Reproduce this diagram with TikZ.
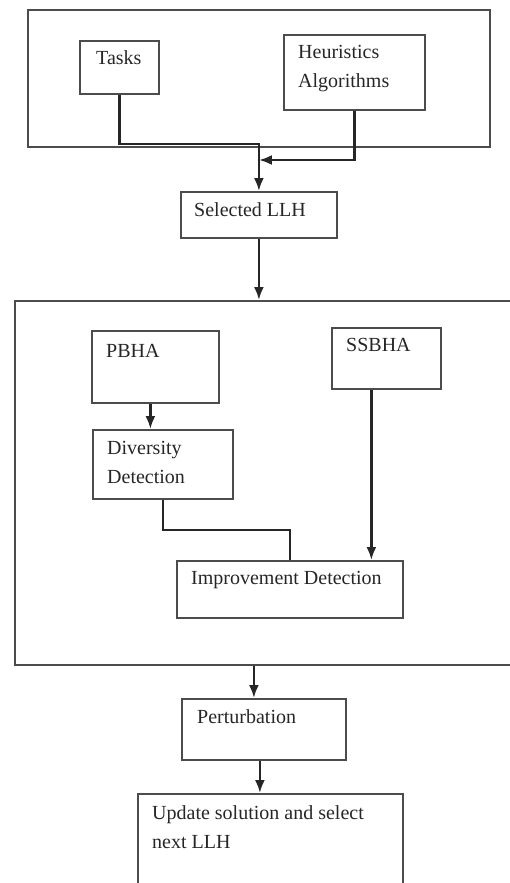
\documentclass[tikz,border=0pt]{standalone}
\usepackage{fontspec}
\setmainfont{Liberation Serif}
\usetikzlibrary{positioning,arrows.meta}

\begin{document}
\begin{tikzpicture}[x=1pt,y=-1pt,
    box/.style={draw=black!70,line width=1.8pt,anchor=north west,inner sep=0pt},
    lbl/.style={anchor=base west,align=left,inner sep=0pt,font=\fontsize{20}{29}\selectfont,text=black!85},
    flow/.style={line width=2.4pt,draw=black!85},
    >={Latex[length=13pt,width=10pt]}]
    \useasboundingbox (0,0) rectangle (510,883);

    % input stage
    \node[box,minimum width=462pt,minimum height=137pt] (inputs) at (27,9) {};
    \node[box,minimum width=79pt,minimum height=53pt] (tasks) at (79,40) {};
    \node[lbl] (tasks-t) at (96,65) {Tasks};
    \node[box,minimum width=141pt,minimum height=75pt] (heur) at (283,34) {};
    \node[lbl] (heur-t) at (298,88) {Heuristics\\Algorithms};
    \node[box,minimum width=156pt,minimum height=46pt] (llh) at (180,191) {};
    \node[lbl] (llh-t) at (194,216) {Selected LLH};

    % hybrid stage
    \node[box,minimum width=497pt,minimum height=364pt] (core) at (14,300) {};
    \node[box,minimum width=127pt,minimum height=72pt] (pbha) at (91,330) {};
    \node[lbl] (pbha-t) at (106,357) {PBHA};
    \node[box,minimum width=109pt,minimum height=61pt] (ssbha) at (331,327) {};
    \node[lbl] (ssbha-t) at (346,351) {SSBHA};
    \node[box,minimum width=140pt,minimum height=69pt] (div) at (92,429) {};
    \node[lbl] (div-t) at (107,483) {Diversity\\Detection};
    \node[box,minimum width=226pt,minimum height=57pt] (impr) at (176,560) {};
    \node[lbl] (impr-t) at (191,584) {Improvement Detection};

    % output stage
    \node[box,minimum width=164pt,minimum height=61pt] (pert) at (181,698) {};
    \node[lbl] (pert-t) at (197,723) {Perturbation};
    \node[box,minimum width=265pt,minimum height=110pt] (upd) at (137,793) {};
    \node[lbl] (upd-t) at (152,848) {Update solution and select\\next LLH};

    % connectors
    \path (inputs.south -| llh.north) ++(0,-4) coordinate (bend);
    \path (llh.north) ++(0,-31) coordinate (merge);
    \draw[flow,->] (tasks.south) |- (bend) -- (llh.north);
    \draw[flow,->] (heur.south) |- (merge);
    \draw[flow,->] (llh.south) -- (llh.south |- core.north);
    \draw[flow,->] ([xshift=-5pt]pbha.south) -- ([xshift=-5pt]pbha.south |- div.north);
    \draw[flow] (div.south) -- ++(0,30) -| (impr.north);
    \draw[flow,->] ([xshift=-15pt]ssbha.south) -- ([xshift=-15pt]ssbha.south |- impr.north);
    \draw[flow,->] ([xshift=-10pt]pert.north |- core.south) -- ([xshift=-10pt]pert.north);
    \draw[flow,->] ([xshift=-4pt]pert.south) -- ([xshift=-4pt]pert.south |- upd.north);
\end{tikzpicture}
\end{document}
